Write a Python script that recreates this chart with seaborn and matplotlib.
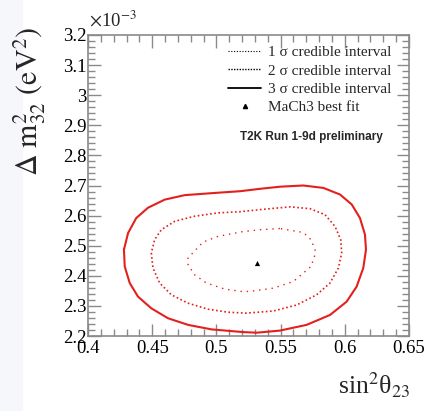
import numpy as np
import pandas as pd
import matplotlib
matplotlib.use("Agg")
import matplotlib.pyplot as plt
import seaborn as sns
from matplotlib.lines import Line2D
from matplotlib.ticker import MultipleLocator, FuncFormatter
from matplotlib.patches import Rectangle

# ---- data (dm2 in units of 1e-3 eV^2) ----
s3_x = [0.4280, 0.4286, 0.4325, 0.4389, 0.4493, 0.4623, 0.4779, 0.4961, 0.5207, 0.5314,
        0.5495, 0.5703, 0.5885, 0.6014, 0.6092, 0.6144, 0.6165, 0.6157, 0.6118, 0.6054,
        0.5963, 0.5833, 0.5677, 0.5495, 0.5340, 0.5184, 0.5012, 0.4753, 0.4597, 0.4467,
        0.4376, 0.4312]
s3_y = [2.487, 2.431, 2.376, 2.331, 2.292, 2.259, 2.237, 2.222, 2.213, 2.211,
        2.218, 2.237, 2.270, 2.314, 2.364, 2.426, 2.487, 2.537, 2.592, 2.637,
        2.670, 2.692, 2.700, 2.696, 2.689, 2.681, 2.676, 2.668, 2.653, 2.626,
        2.592, 2.542]

s2_x = [0.4493, 0.4506, 0.4558, 0.4649, 0.4779, 0.4935, 0.5090, 0.5234, 0.5443, 0.5625,
        0.5781, 0.5885, 0.5950, 0.5976, 0.5968, 0.5924, 0.5846, 0.5729, 0.5573, 0.5392,
        0.5184, 0.5012, 0.4831, 0.4675, 0.4571, 0.4519]
s2_y = [2.476, 2.426, 2.376, 2.337, 2.309, 2.289, 2.279, 2.276, 2.283, 2.303,
        2.337, 2.376, 2.426, 2.476, 2.520, 2.564, 2.603, 2.623, 2.629, 2.622,
        2.613, 2.609, 2.598, 2.581, 2.553, 2.520]

s1_x = [0.5495, 0.5340, 0.5195, 0.5012, 0.4896, 0.4779, 0.4779, 0.4831, 0.4922, 0.5064,
        0.5195, 0.5262, 0.5443, 0.5599, 0.5737, 0.5768, 0.5768, 0.5737, 0.5677]
s1_y = [2.557, 2.553, 2.546, 2.531, 2.512, 2.459, 2.437, 2.403, 2.376, 2.356,
        2.348, 2.348, 2.359, 2.381, 2.431, 2.470, 2.487, 2.520, 2.544]

best_x = [0.5314]
best_y = [2.444]

x_ticks = [0.4, 0.45, 0.5, 0.55, 0.6, 0.65]
y_ticks = [2.2, 2.3, 2.4, 2.5, 2.6, 2.7, 2.8, 2.9, 3.0, 3.1, 3.2]
legend_labels = ["1 σ credible interval", "2 σ credible interval",
                 "3 σ credible interval", "MaCh3 best fit"]

sns.set_theme(style="ticks")
plt.rcParams['font.family'] = ['Liberation Serif', 'DejaVu Serif']
plt.rcParams['mathtext.fontset'] = 'stix'

W, H = 442, 411
fig = plt.figure(figsize=(W / 100, H / 100), dpi=100)
fig.patch.set_facecolor('white')
fig.patches.append(Rectangle((0, 0), 22 / W, 1, transform=fig.transFigure,
                             color='#f5f7fa', zorder=0))

ax = fig.add_axes([88 / W, 1 - 336 / H, (409 - 88) / W, (336 - 35) / H])


def closed(xs, ys):
    return pd.DataFrame({"x": list(xs) + [xs[0]], "y": list(ys) + [ys[0]]})


red = '#e3201c'
sns.lineplot(data=closed(s3_x, s3_y), x="x", y="y", sort=False, estimator=None,
             ax=ax, color=red, lw=1.5, solid_joinstyle='round', solid_capstyle='round')
sns.lineplot(data=closed(s2_x, s2_y), x="x", y="y", sort=False, estimator=None,
             ax=ax, color=red, lw=1.2, linestyle=(0, (1, 1.5)))
sns.lineplot(data=closed(s1_x, s1_y), x="x", y="y", sort=False, estimator=None,
             ax=ax, color=red, lw=1.0, linestyle=(0, (1, 3.5)))
sns.scatterplot(x=best_x, y=best_y, marker='^', color='black', s=14,
                edgecolor='black', linewidth=0, ax=ax, zorder=5)

ax.set_xlim(0.4, 0.65)
ax.set_ylim(2.2, 3.2)
ax.set_xticks(x_ticks)
ax.set_yticks(y_ticks)
ax.xaxis.set_minor_locator(MultipleLocator(0.01))
ax.yaxis.set_minor_locator(MultipleLocator(0.02))
fmt = FuncFormatter(lambda v, p: '%g' % round(v, 3))
ax.xaxis.set_major_formatter(fmt)
ax.yaxis.set_major_formatter(fmt)
ax.set_xlabel("")
ax.set_ylabel("")

gray = '#8a8a8a'
for sp in ax.spines.values():
    sp.set_visible(True)
    sp.set_color(gray)
    sp.set_linewidth(1.2)
ax.tick_params(which='both', direction='in', top=True, right=True, color=gray,
               width=1.0, labelsize=13.5, labelcolor='black')
ax.tick_params(which='major', length=9)
ax.tick_params(which='minor', length=5)
ax.tick_params(axis='y', pad=1)
ax.tick_params(axis='x', pad=3)

handles = [Line2D([], [], color='black', lw=0.8, linestyle=(0, (1, 1.5))),
           Line2D([], [], color='black', lw=1.0, linestyle=(0, (1, 1))),
           Line2D([], [], color='black', lw=1.3),
           Line2D([], [], color='black', marker='^', linestyle='None', markersize=3)]
ax.legend(handles, legend_labels, loc='upper right', frameon=False, fontsize=11,
          handlelength=2.2, handletextpad=0.45, labelspacing=0.3,
          bbox_to_anchor=(0.965, 0.985), borderaxespad=0.0)

ax.text((240 - 88) / (409 - 88), 0.66, "T2K Run 1-9d preliminary", transform=ax.transAxes,
        fontsize=8.5, fontweight='bold', family=['Liberation Sans', 'DejaVu Sans'],
        ha='left', va='center')

fig.text(89 / W, 1 - 20 / H, r"$\times$10$^{-3}$", fontsize=13.5,
         ha='left', va='center')
fig.text(30 / W, 1 - 101 / H, r"$\Delta\ \mathrm{m}^{2}_{32}\ (\mathrm{eV}^{2})$",
         rotation=90, fontsize=21.5, ha='center', va='center')
fig.text(410 / W, 1 - 385 / H, "sin$^{2}$θ$_{23}$",
         fontsize=18.5, ha='right', va='center')

fig.savefig("out.png", dpi=100, facecolor='white')
